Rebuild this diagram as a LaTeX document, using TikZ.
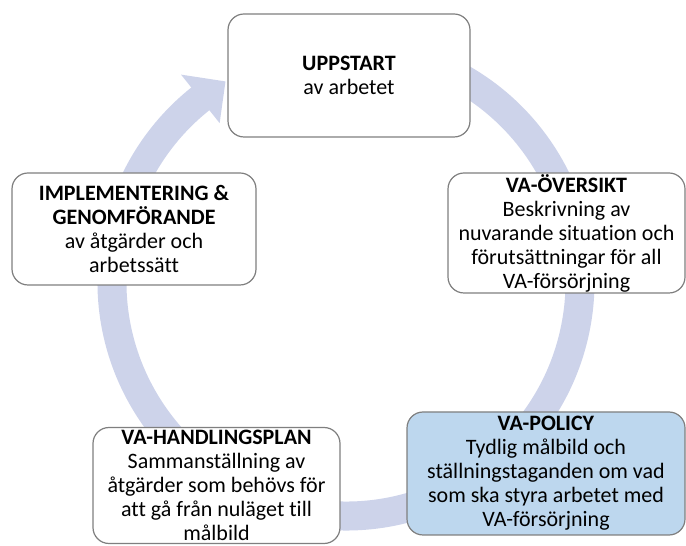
\documentclass[tikz,border=0pt]{standalone}
\usepackage{fontspec}
\setmainfont[Ligatures=NoCommon]{Carlito}
\usetikzlibrary{calc}
\definecolor{bandcol}{HTML}{CDD3EA}
\definecolor{boxline}{HTML}{7F7F7F}
\definecolor{policyfill}{HTML}{BDD7EE}
\tikzset{
  stagebox/.style={draw=boxline, line width=1.2pt, rounded corners=16pt, fill=white,
    align=center, inner sep=0pt, text=black,
    font=\fontsize{22}{24}\selectfont},
  bandline/.style={draw=bandcol, line width=29pt},
}
\begin{document}
\begin{tikzpicture}[x=1pt,y=1pt]
\useasboundingbox (0,0) rectangle (686,546);
\coordinate (C) at (346,264);
% circular band with arrow head
\draw[bandline] ([shift={(80:234pt)}]C) arc[start angle=80, end angle=-232, radius=234pt];
\fill[bandcol] ([shift={(-231.5:203pt)}]C) -- ([shift={(-239:234pt)}]C) -- ([shift={(-231.5:265pt)}]C) -- cycle;
% stages
\node[stagebox, minimum width=242pt, minimum height=123pt] (upp) at (349,470.5)
  {\textbf{UPPSTART}\\av arbetet};
\node[stagebox, minimum width=237pt, minimum height=120pt] (oversikt) at (566.5,313)
  {\textbf{VA-ÖVERSIKT}\\Beskrivning av\\nuvarande situation och\\förutsättningar för all\\VA-försörjning};
\node[stagebox, fill=policyfill, minimum width=278pt, minimum height=123pt] (policy) at (546,72.5)
  {\textbf{VA-POLICY}\\Tydlig målbild och\\ställningstaganden om vad\\som ska styra arbetet med\\VA-försörjning};
\node[stagebox, minimum width=247pt, minimum height=116pt] (plan) at (216.5,60.5)
  {\textbf{VA-HANDLINGSPLAN}\\Sammanställning av\\åtgärder som behövs för\\att gå från nuläget till\\målbild};
\node[stagebox, minimum width=244pt, minimum height=112pt] (impl) at (134,317)
  {\textbf{IMPLEMENTERING \&}\\\textbf{GENOMFÖRANDE}\\av åtgärder och\\arbetssätt};
\end{tikzpicture}
\end{document}
